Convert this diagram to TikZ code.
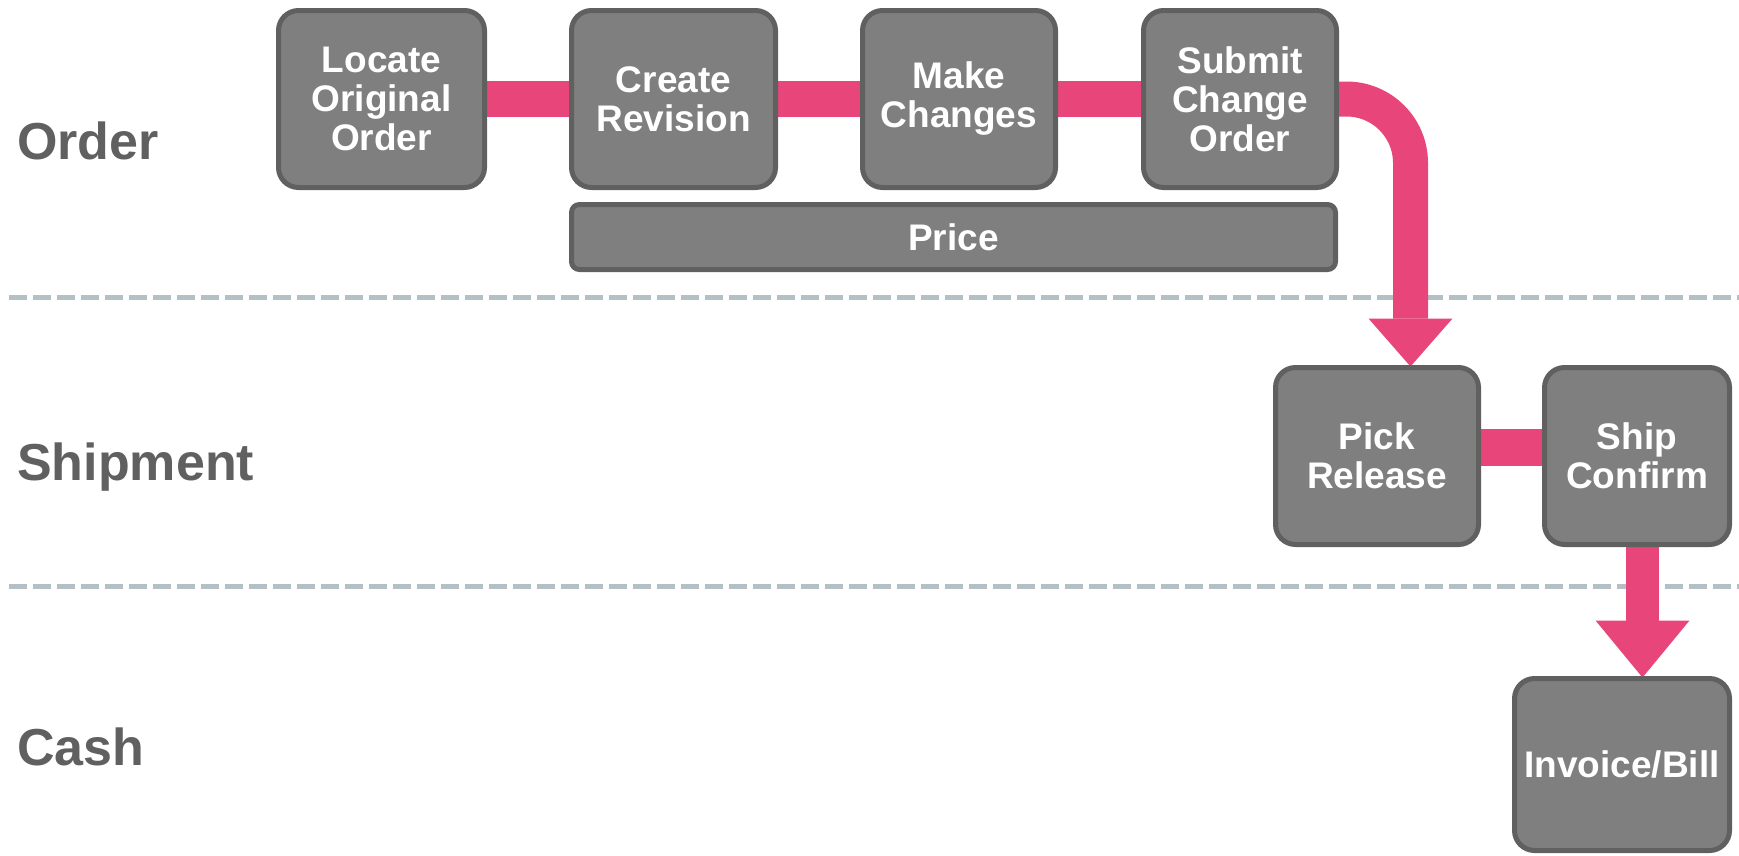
\documentclass[tikz,border=0pt]{standalone}
\usepackage{fontspec}
\setmainfont{Liberation Sans}
\usetikzlibrary{arrows.meta,backgrounds,positioning}
\definecolor{boxfill}{HTML}{7F7F7F}
\definecolor{boxline}{HTML}{606060}
\definecolor{flowpink}{HTML}{E8457A}
\definecolor{lanedash}{HTML}{B4C0C6}
\definecolor{lanetext}{HTML}{606060}
\begin{document}
\begin{tikzpicture}
[x=1pt,y=-1pt,
task/.style={draw=boxline,fill=boxfill,line width=5pt,rounded corners=20pt,text=white,
  font=\fontsize{37}{39}\selectfont\bfseries,align=center,inner sep=0pt,minimum height=177pt},
lane/.style={anchor=base west,inner sep=0pt,text=lanetext,font=\fontsize{52}{56}\selectfont\bfseries},
sep/.style={lanedash,line width=5pt,dash pattern=on 18pt off 6pt},
flow/.style={flowpink,line width=36pt}]
\useasboundingbox (0,0) rectangle (1739,855);
% swim lanes
\node[lane] (ORD) at (17,159) {Order};
\node[lane] (SHP) at (17,480) {Shipment};
\node[lane] (CSH) at (17,765) {Cash};
% order lane
\node[task,minimum width=206pt] (LOO) at (381.5,99) {Locate\\Original\\Order};
\node[task,minimum width=204pt] (CR) at (673.5,99) {Create\\Revision};
\node[task,minimum width=193pt] (MC) at (959,99) {Make\\Changes};
\node[task,minimum width=193pt] (SCO) at (1240,99) {Submit\\Change\\Order};
\node[task,minimum width=764pt,minimum height=65pt,rounded corners=8pt] (PR) at (953.5,237) {Price};
% shipment lane
\node[task,minimum width=203pt] (PK) at (1377,456) {Pick\\Release};
\node[task,minimum width=185pt] (SC) at (1637,456) {Ship\\Confirm};
% cash lane
\node[task,minimum width=215pt,minimum height=172pt] (IB) at (1622,764.5) {Invoice/Bill};
\begin{scope}[on background layer]
\draw[sep] (9,297) -- (1739,297);
\draw[sep] (9,586) -- (1739,586);
\draw[flow] (LOO) -- (CR);
\draw[flow] (CR) -- (MC);
\draw[flow] (MC) -- (SCO);
\draw[flow,line width=35pt,rounded corners=64pt,-{Triangle[width=84pt,length=48pt,line width=0pt]}]
  (SCO.east) -| ([xshift=33.5pt,yshift=-1.5pt]PK.north);
\draw[flow,line width=37pt] ([yshift=8.5pt]PK.east) -- ([yshift=8.5pt]SC.west);
\draw[flow,line width=33pt,-{Triangle[width=94pt,length=57pt,line width=0pt]}]
  ([xshift=5.5pt]SC.south) -- ([xshift=20.5pt,yshift=-1.5pt]IB.north);
\end{scope}
\end{tikzpicture}
\end{document}
